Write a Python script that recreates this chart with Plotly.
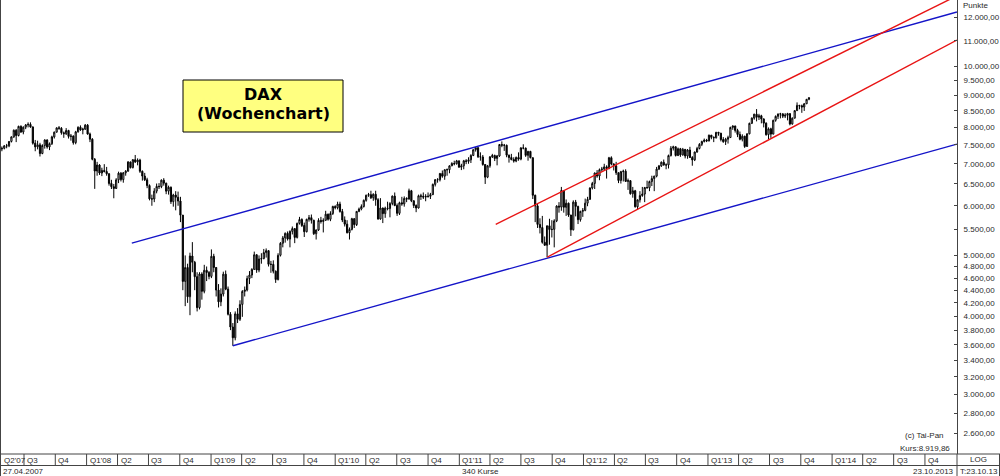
import math
import pandas as pd
import plotly.graph_objects as go

# ---------------- data (weekly DAX candles) ----------------
first_open = 7390
closes_2007 = [7409,7477,7476,7598,7727,7917,7765,8032,7867,8007,8074,8090,8014,7550,7448,7504,7270,7485,7638,7447,7535,7726,7862,7987,7975,7844,7819,7910,7741,7749,7565,7871,8005,7928,7948,8067]
highs_2007 = [7460,7500,7530,7610,7740,7940,7950,8050,8060,8030,8100,8150,8151,8030,7640,7620,7560,7520,7660,7660,7570,7760,7880,8000,8040,8010,7880,7980,7930,7810,7770,7900,8030,8060,7990,8100]
lows_2007 = [7330,7380,7410,7440,7570,7700,7580,7740,7840,7800,7950,8000,7990,7510,7330,7380,7190,7250,7400,7400,7360,7500,7680,7850,7930,7790,7700,7780,7680,7620,7510,7520,7850,7900,7800,7930]

closes_2008 = [7808,7662,7115,6816,6968,6767,6832,6805,6748,6513,6435,6394,6599,6763,6605,6772,6811,7044,6903,7106,7049,7096,6810,6691,6600,6462,6154,6151,6331,6443,6437,6591,6519,6331,6422,6091,6242,6189,6105,5797,4544,4782,4295,4988,4875,4624,4127,4669,4382,4734,4696,4629]
highs_2008 = [8100,7850,7690,7150,7050,6990,6900,6990,6920,6760,6600,6500,6640,6800,6790,6790,6840,7070,7060,7120,7230,7140,7130,6830,6770,6650,6490,6250,6400,6510,6520,6610,6640,6530,6460,6440,6270,6330,6320,6200,5800,5000,4850,5050,5250,4900,4700,4700,4700,4830,4800,4720]
lows_2008 = [7790,7580,7090,6384,6700,6720,6690,6780,6700,6460,6380,6167,6380,6520,6560,6530,6700,6800,6880,6880,7020,6960,6770,6580,6570,6400,6120,6000,6080,6280,6380,6400,6460,6260,6250,6040,5980,5900,6000,5650,4400,4150,4200,4014,4700,4400,4070,4100,4250,4350,4550,4580]

closes_2009 = [4983,4783,4402,4216,4338,4667,4417,4028,3844,3695,4034,3954,4176,4381,4404,4592,4652,4749,5012,4738,4934,4941,5052,5088,4839,4838,4718,4576,5002,5228,5332,5422,5309,5462,5517,5341,5624,5704,5581,5454,5709,5743,5688,5415,5489,5686,5663,5687,5817,5709,5831,5985]
highs_2009 = [5111,5030,4790,4500,4430,4710,4730,4460,4060,3900,4070,4120,4240,4400,4460,4640,4720,4770,5070,5020,5000,5040,5120,5130,5100,4900,4910,4730,5040,5250,5370,5440,5460,5480,5560,5520,5640,5760,5730,5640,5720,5800,5810,5700,5500,5730,5760,5730,5890,5830,5880,6000]
lows_2009 = [4600,4700,4300,4130,4150,4300,4400,4010,3800,3588,3660,3900,3930,3990,4300,4380,4500,4600,4740,4690,4700,4850,4930,4960,4800,4690,4680,4520,4560,4980,5150,5240,5280,5150,5400,5230,5320,5600,5550,5350,5440,5660,5620,5390,5300,5470,5620,5440,5680,5680,5670,5800]

closes_2010 = [5957,6037,5875,5695,5608,5434,5500,5722,5598,5877,5928,5983,6120,6236,6250,6180,6259,6136,5716,5950,5829,5947,5938,6049,6216,6005,5835,6066,6041,6164,6148,6340,6110,6005,5951,6224,6211,6194,6209,6211,6250,6490,6605,6601,6754,6688,6848,6850,6947,7007,7000,7076,6914]
highs_2010 = [6010,6090,6090,5930,5770,5690,5540,5740,5730,5880,5960,6030,6140,6250,6290,6340,6280,6340,6170,6170,5960,5980,6090,6080,6230,6300,6050,6090,6200,6210,6190,6390,6360,6120,6030,6250,6270,6300,6260,6300,6290,6510,6610,6640,6770,6830,6860,6880,6960,7040,7080,7100,7080]
lows_2010 = [5920,5920,5850,5650,5560,5420,5300,5480,5530,5570,5860,5900,5960,6090,6200,6150,6110,6000,5700,5700,5630,5740,5900,5750,6010,5990,5780,5800,6000,5980,6080,6140,6080,5950,5860,5940,6130,6150,6100,6180,6150,6240,6440,6530,6560,6650,6600,6700,6760,6940,6960,6980,6900]

closes_2011 = [6947,7076,7062,7102,7217,7371,7426,7185,7178,6982,6664,6947,7180,7217,7139,7204,7514,7492,7493,7226,7163,7109,7070,7164,7121,7419,7415,7220,7326,7159,6236,5997,5602,5538,5246,5189,5574,5497,5502,5676,5993,5971,6346,5966,6057,5800,5493,6080,5986,5701,5878,5898]
highs_2011 = [7000,7100,7120,7170,7250,7380,7440,7440,7300,7230,6990,6970,7200,7260,7240,7230,7520,7600,7530,7510,7240,7260,7170,7190,7300,7440,7520,7430,7340,7340,7160,6250,6040,5730,5780,5360,5580,5720,5690,5710,6010,6080,6430,6350,6140,6070,5800,6120,6130,6000,5890,5950]
lows_2011 = [6840,6860,6990,7000,7020,7200,7320,7150,7080,6950,6500,6640,6900,7150,7070,6960,7180,7440,7340,7170,7030,7090,7030,7040,7080,7090,7380,7180,7080,7140,6150,5650,5530,5420,5220,5180,4966,5200,5340,5150,5650,5850,5890,5850,5780,5760,5370,5480,5770,5610,5660,5760]

closes_2012 = [6057,6143,6404,6512,6766,6692,6849,6864,6921,6880,7157,6996,6947,6775,6583,6801,6812,6561,6579,6271,6339,5978,6131,6229,6263,6416,6410,6557,6630,6689,6865,6945,7040,6971,6970,7214,7412,7451,7216,7398,7233,7381,7203,7363,7163,7101,7309,7405,7518,7596,7636,7612]
highs_2012 = [6160,6200,6420,6550,6780,6840,6880,6920,7000,6960,7180,7194,7010,7050,6780,6820,6850,6860,6630,6590,6430,6360,6140,6330,6430,6430,6580,6580,6700,6700,6920,6970,7060,7110,7010,7240,7470,7480,7460,7430,7420,7420,7390,7390,7450,7200,7320,7450,7550,7620,7680,7670]
lows_2012 = [5880,5990,6130,6370,6380,6650,6590,6800,6830,6630,6860,6960,6830,6720,6520,6510,6560,6550,6360,6250,6180,5960,5914,6070,6200,6080,6390,6330,6450,6330,6660,6840,6920,6950,6860,6880,7190,7350,7190,7200,7180,7210,7140,7130,7150,6950,7070,7290,7380,7470,7570,7580]

closes_2013 = [7776,7715,7702,7857,7833,7652,7593,7661,7708,8000,8043,7913,7795,7659,7745,7459,7814,8122,8278,8399,8305,8349,8254,8127,7790,7959,7806,8212,8332,8403,8410,8338,8366,8416,8103,8276,8509,8675,8661,8622,8725,8870,8920]
highs_2013 = [7790,7780,7740,7870,7870,7840,7720,7700,7760,8020,8060,8050,7960,7880,7800,7760,7830,8140,8300,8410,8557,8410,8380,8270,8150,8000,7990,8230,8360,8420,8440,8420,8430,8440,8420,8300,8520,8770,8690,8700,8750,8880,8940]
lows_2013 = [7600,7660,7580,7680,7760,7600,7560,7500,7540,7700,7930,7850,7720,7630,7600,7420,7450,7800,8100,8230,8180,8220,8120,8000,7760,7655,7700,7800,8170,8250,8270,8280,8280,8210,8060,8080,8270,8500,8550,8440,8500,8720,8840]

closes = closes_2007 + closes_2008 + closes_2009 + closes_2010 + closes_2011 + closes_2012 + closes_2013
highs = highs_2007 + highs_2008 + highs_2009 + highs_2010 + highs_2011 + highs_2012 + highs_2013
lows = lows_2007 + lows_2008 + lows_2009 + lows_2010 + lows_2011 + lows_2012 + lows_2013
opens = [first_open] + closes[:-1]
week_dates = pd.date_range("2007-04-27", periods=len(closes), freq="7D")

# trend lines: (dates, values)
blue_upper_dates = ["2008-05-13", "2015-01-03"]
blue_upper_vals = [5229, 12223]
blue_lower_dates = ["2009-03-06", "2015-01-03"]
blue_lower_vals = [3588, 7524]
red_upper_dates = ["2011-04-18", "2015-01-03"]
red_upper_vals = [5605, 12970]
red_lower_dates = ["2011-09-16", "2015-01-03"]
red_lower_vals = [4966, 11027]

quarter_starts = ["2007-07-01", "2007-10-01", "2008-01-01", "2008-04-01", "2008-07-01", "2008-10-01",
                  "2009-01-01", "2009-04-01", "2009-07-01", "2009-10-01", "2010-01-01", "2010-04-01",
                  "2010-07-01", "2010-10-01", "2011-01-01", "2011-04-01", "2011-07-01", "2011-10-01",
                  "2012-01-01", "2012-04-01", "2012-07-01", "2012-10-01", "2013-01-01", "2013-04-01",
                  "2013-07-01", "2013-10-01", "2014-01-01", "2014-04-01", "2014-07-01", "2014-10-01"]
quarter_labels = ["Q3", "Q4", "Q1'08", "Q2", "Q3", "Q4", "Q1'09", "Q2", "Q3", "Q4", "Q1'10", "Q2",
                  "Q3", "Q4", "Q1'11", "Q2", "Q3", "Q4", "Q1'12", "Q2", "Q3", "Q4", "Q1'13", "Q2",
                  "Q3", "Q4", "Q1'14", "Q2", "Q3", "Q4"]
y_ticks = [2600, 2800, 3000, 3200, 3400, 3600, 3800, 4000, 4200, 4400, 4600, 4800, 5000,
           5500, 6000, 6500, 7000, 7500, 8000, 8500, 9000, 9500, 10000, 11000, 12000]

# ---------------- layout geometry ----------------
W, H = 1000, 476
ML, MR, MT, MB = 1, 43, 0, 22
PW, PH = W - ML - MR, H - MT - MB
X_RANGE = ["2007-04-24 09:00", "2015-01-03 06:00"]
Y_RANGE = [math.log10(2411), math.log10(12774)]


def px(x):
    return (x - ML) / PW


def py(y):
    return (MT + PH - y) / PH


def de(v):
    s = f"{v:,.2f}"
    return s.replace(",", "X").replace(".", ",").replace("X", ".")


FONT = "Liberation Sans, Arial, sans-serif"
TXT = "#2a2a2a"

fig = go.Figure()
fig.add_trace(go.Candlestick(
    x=week_dates, open=opens, high=highs, low=lows, close=closes,
    increasing=dict(line=dict(color="black", width=1), fillcolor="white"),
    decreasing=dict(line=dict(color="black", width=1), fillcolor="black"),
    whiskerwidth=0, hoverinfo="skip", showlegend=False))

for d, v, c in [(blue_upper_dates, blue_upper_vals, "#1414c8"),
                (blue_lower_dates, blue_lower_vals, "#1414c8"),
                (red_upper_dates, red_upper_vals, "#e81414"),
                (red_lower_dates, red_lower_vals, "#e81414")]:
    fig.add_trace(go.Scatter(x=d, y=v, mode="lines", line=dict(color=c, width=1.4),
                             hoverinfo="skip", showlegend=False))

shapes = []
# bottom strip frame
shapes.append(dict(type="line", xref="paper", yref="paper", x0=px(0), x1=px(1000), y0=py(454), y1=py(454),
                   line=dict(color="#444", width=1)))
shapes.append(dict(type="line", xref="paper", yref="paper", x0=px(0), x1=px(1000), y0=py(465.5), y1=py(465.5),
                   line=dict(color="#444", width=1)))
shapes.append(dict(type="line", xref="paper", yref="paper", x0=px(0.5), x1=px(0.5), y0=py(0), y1=py(476),
                   line=dict(color="#444", width=1)))
shapes.append(dict(type="line", xref="paper", yref="paper", x0=px(957), x1=px(957), y0=py(454), y1=py(476),
                   line=dict(color="#444", width=1)))
shapes.append(dict(type="line", xref="paper", yref="paper", x0=px(999.5), x1=px(999.5), y0=py(454), y1=py(476),
                   line=dict(color="#444", width=1)))
for q in quarter_starts:
    shapes.append(dict(type="line", xref="x", yref="paper", x0=q, x1=q, y0=py(454), y1=py(465.5),
                       line=dict(color="#444", width=1)))
# title box
shapes.append(dict(type="rect", xref="paper", yref="paper", x0=px(183), x1=px(343), y0=py(80), y1=py(132),
                   fillcolor="#ffff80", line=dict(color="black", width=1)))
fig.update_layout(shapes=shapes)

ann = []
small = dict(family=FONT, size=8, color=TXT)
ann.append(dict(xref="paper", yref="paper", x=px(2), y=py(460), text="Q2'07", xanchor="left", yanchor="middle",
                showarrow=False, font=small))
for q, lab in zip(quarter_starts, quarter_labels):
    ann.append(dict(xref="x", yref="paper", x=q, y=py(460), text=lab, xanchor="left", yanchor="middle",
                    xshift=1, showarrow=False, font=small))
ann += [
    dict(xref="paper", yref="paper", x=px(1), y=py(471), text="27.04.2007", xanchor="left", yanchor="middle",
         showarrow=False, font=small),
    dict(xref="paper", yref="paper", x=px(480), y=py(471), text="340 Kurse", xanchor="center", yanchor="middle",
         showarrow=False, font=small),
    dict(xref="paper", yref="paper", x=px(956), y=py(471), text="23.10.2013", xanchor="right", yanchor="middle",
         showarrow=False, font=small),
    dict(xref="paper", yref="paper", x=px(978.5), y=py(459.5), text="LOG", xanchor="center", yanchor="middle",
         showarrow=False, font=small),
    dict(xref="paper", yref="paper", x=px(978.5), y=py(471), text="T:23.10.13", xanchor="center", yanchor="middle",
         showarrow=False, font=small),
    dict(xref="paper", yref="paper", x=px(961), y=py(6), text="Punkte", xanchor="left", yanchor="middle",
         showarrow=False, font=small),
    dict(xref="paper", yref="paper", x=px(924), y=py(435), text="(c) Tai-Pan", xanchor="center", yanchor="middle",
         showarrow=False, font=small),
    dict(xref="paper", yref="paper", x=px(925), y=py(448), text="Kurs:8.919,86", xanchor="center", yanchor="middle",
         showarrow=False, font=small),
    dict(xref="paper", yref="paper", x=px(263), y=py(94), text="<b>DAX</b>", xanchor="center", yanchor="middle",
         showarrow=False, font=dict(family="DejaVu Sans", size=16, color="black")),
    dict(xref="paper", yref="paper", x=px(263), y=py(113), text="<b>(Wochenchart)</b>", xanchor="center",
         yanchor="middle", showarrow=False, font=dict(family="DejaVu Sans", size=16, color="black")),
]
fig.update_layout(annotations=ann)

fig.update_layout(
    width=W, height=H, margin=dict(l=ML, r=MR, t=MT, b=MB, pad=0),
    paper_bgcolor="white", plot_bgcolor="white", showlegend=False, hovermode=False,
    xaxis=dict(type="date", range=X_RANGE, showticklabels=False, showgrid=False, zeroline=False,
               showline=False, ticks="", rangeslider=dict(visible=False), fixedrange=True),
    yaxis=dict(type="log", side="right", range=Y_RANGE, tickvals=y_ticks, ticktext=[de(v) for v in y_ticks],
               showgrid=False, zeroline=False, ticks="inside", ticklen=3, tickcolor="#444",
               showline=True, linecolor="#444", linewidth=1, ticklabelstandoff=4,
               tickfont=dict(family=FONT, size=8, color=TXT), fixedrange=True),
)

fig.write_html("out.html", config={"displayModeBar": False, "staticPlot": True},
               post_script="document.body.style.margin='0';document.body.style.overflow='hidden';")
